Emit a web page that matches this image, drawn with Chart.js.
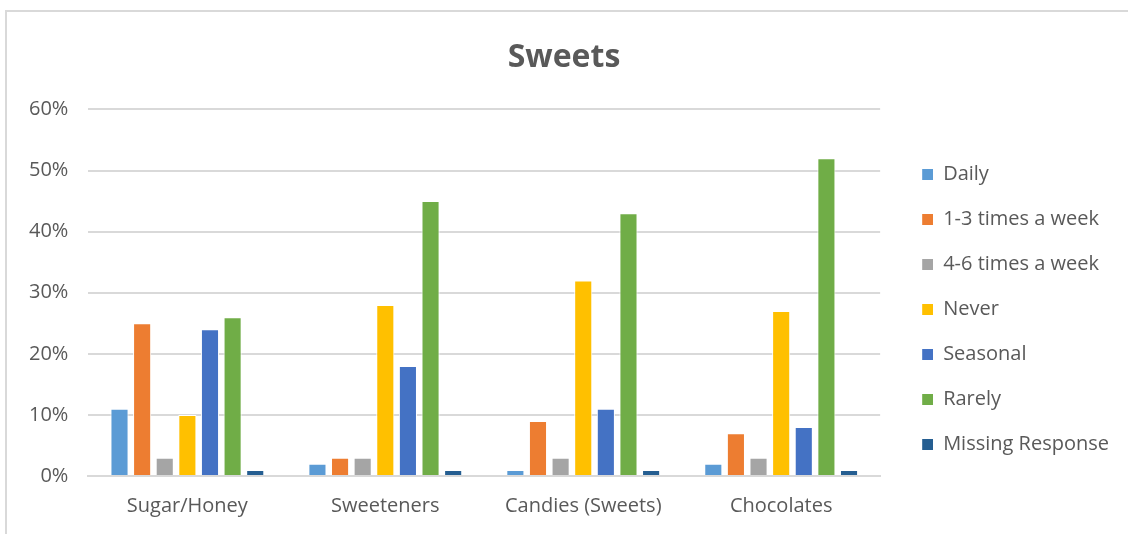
<!DOCTYPE html>
<html>
<head>
<meta charset="utf-8">
<script src="https://cdn.jsdelivr.net/npm/chart.js@4.4.1/dist/chart.umd.min.js"></script>
<style>
  html, body { margin: 0; padding: 0; background: #fff; }
  .frame {
    position: absolute; left: 5px; top: 10px;
    width: 1123px; height: 524px;
    border-left: 2px solid #d9d9d9; border-top: 2px solid #d9d9d9;
    box-sizing: border-box;
  }
  #sweetsChart { display: block; }
</style>
</head>
<body>
<div class="frame">
  <canvas id="sweetsChart" width="1121" height="522"></canvas>
</div>
<script>
// --- DATA ---
const categories = ['Sugar/Honey', 'Sweeteners', 'Candies (Sweets)', 'Chocolates'];
const yTicks = [0, 0.1, 0.2, 0.3, 0.4, 0.5, 0.6];

const daily      = [0.11, 0.02, 0.01, 0.02];
const oneToThree = [0.25, 0.03, 0.09, 0.07];
const fourToSix  = [0.03, 0.03, 0.03, 0.03];
const never      = [0.10, 0.28, 0.32, 0.27];
const seasonal   = [0.24, 0.18, 0.11, 0.08];
const rarely     = [0.26, 0.45, 0.43, 0.52];
const missing    = [0.01, 0.01, 0.01, 0.01];

const seriesNames = ['Daily', '1-3 times a week', '4-6 times a week', 'Never', 'Seasonal', 'Rarely', 'Missing Response'];
const seriesData = [daily, oneToThree, fourToSix, never, seasonal, rarely, missing];
const seriesColors = ['#5B9BD5', '#ED7D31', '#A5A5A5', '#FFC000', '#4472C4', '#70AD47', '#255E91'];

const textColor = '#595959';
const gridColor = '#d9d9d9';
const fontFamily = "'Open Sans', 'Liberation Sans', sans-serif";

// Legend swatch: blank lead-in on the left so the squares sit clear of the plot
const ICON_LEAD = 17, ICON_SIZE = 11;
function makeIcon(color) {
    const c = document.createElement('canvas');
    c.width = ICON_LEAD + ICON_SIZE;
    c.height = ICON_SIZE;
    const g = c.getContext('2d');
    g.fillStyle = color;
    g.fillRect(ICON_LEAD, 0, ICON_SIZE, ICON_SIZE);
    return c;
}
const legendIcons = seriesColors.map(makeIcon);

// --- CHART ---
const datasets = seriesNames.map((name, i) => ({
    label: name,
    data: seriesData[i],
    backgroundColor: seriesColors[i],
    borderColor: '#ffffff',
    borderWidth: 1,
    categoryPercentage: 0.8,
    barPercentage: 0.8
}));

new Chart(document.getElementById('sweetsChart'), {
    type: 'bar',
    data: { labels: categories, datasets: datasets },
    options: {
        responsive: false,
        animation: false,
        layout: { padding: { left: 2, right: 9, top: 0, bottom: 6 } },
        plugins: {
            title: {
                display: true,
                text: 'Sweets',
                color: textColor,
                font: { family: fontFamily, size: 32, weight: 'bold' },
                padding: { top: 27, bottom: 32 }
            },
            legend: {
                position: 'right',
                // empty title only pushes the legend items down a bit
                title: { display: true, text: ' ', font: { size: 12 }, padding: { top: 32, bottom: 33 } },
                labels: {
                    color: textColor,
                    font: { family: fontFamily, size: 20 },
                    usePointStyle: true,
                    pointStyleWidth: ICON_LEAD + ICON_SIZE,
                    boxHeight: ICON_SIZE,
                    padding: 25,
                    generateLabels: chart => {
                        const items = Chart.defaults.plugins.legend.labels.generateLabels(chart);
                        items.forEach((item, i) => { item.pointStyle = legendIcons[i]; });
                        return items;
                    }
                }
            },
            tooltip: { enabled: false }
        },
        scales: {
            x: {
                grid: { display: false },
                border: { color: gridColor, width: 2 },
                ticks: {
                    color: textColor,
                    font: { family: fontFamily, size: 20 },
                    padding: 10
                }
            },
            y: {
                min: 0,
                max: 0.6,
                afterBuildTicks: axis => { axis.ticks = yTicks.map(v => ({ value: v })); },
                grid: { color: gridColor, lineWidth: 2, drawTicks: false },
                border: { display: false },
                ticks: {
                    color: textColor,
                    font: { family: fontFamily, size: 20 },
                    padding: 20,
                    callback: v => Math.round(v * 100) + '%'
                }
            }
        }
    }
});
</script>
</body>
</html>
